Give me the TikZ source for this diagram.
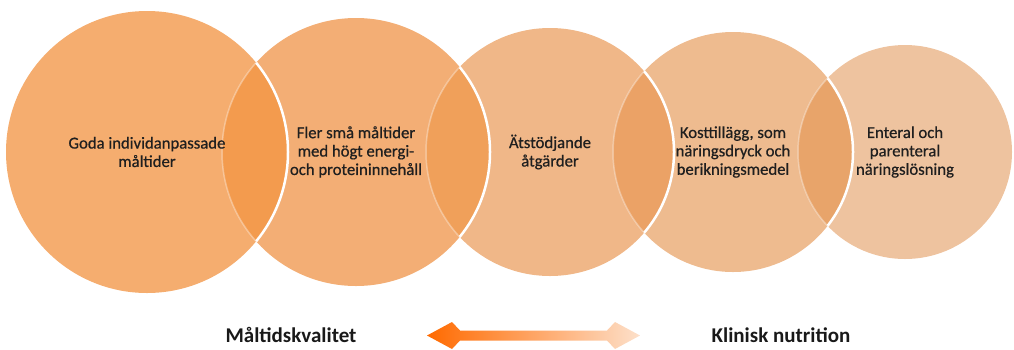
\documentclass[tikz,border=0pt]{standalone}
\usepackage{fontspec}
\setmainfont{Carlito}
\newfontfamily\heavier{Carlito}[FakeBold=0.6]
\usetikzlibrary{calc}
\definecolor{fillA}{HTML}{F5AD6F}
\definecolor{fillB}{HTML}{F3AE75}
\definecolor{fillC}{HTML}{F0B788}
\definecolor{fillD}{HTML}{EEBB8F}
\definecolor{fillE}{HTML}{EEC39F}
\definecolor{lensA}{HTML}{F39B4E}
\definecolor{lensB}{HTML}{F0A05A}
\definecolor{lensC}{HTML}{EBA266}
\definecolor{lensD}{HTML}{E8A46A}
\definecolor{arrowhot}{HTML}{FF6A00}
\definecolor{arrowpale}{HTML}{FDE0CA}
\begin{document}
\begin{tikzpicture}[x=1pt,y=-1pt,
    blob/.style={circle,inner sep=0pt,minimum size=2*#1},
    rim/.style={white,line width=2.5pt},
    ghost/.style={white,opacity=.35,line width=1.5pt},
    txt/.style={align=center,text=black!88,font=\heavier\fontsize{16.7}{18.4}\selectfont},
    tag/.style={text=black!90,font=\fontsize{21}{24}\selectfont\bfseries},
    duplex/.style={left color=arrowhot,right color=arrowpale}]
  \useasboundingbox (0,0) rectangle (1014,349);
  % circles, drawn from the right so the left one lies on top
  \foreach \n/\x/\r/\c in {tube/905/107/fillE,supp/733/120/fillD,eat/550/124/fillC,
      small/356/134/fillB,good/147/141/fillA}
    \node[blob=\r,fill=\c] (\n) at (\x,152) {};
  % overlaps
  \foreach \p/\q/\rp/\rq/\c in {good/small/141/134/lensA,small/eat/134/124/lensB,
      eat/supp/124/120/lensC,supp/tube/120/107/lensD} {
    \begin{scope}
      \clip (\q.center) circle[radius=\rq];
      \fill[\c] (\p.center) circle[radius=\rp];
      \draw[rim] (\p.center) circle[radius=\rp];
    \end{scope}
    \begin{scope}
      \clip (\p.center) circle[radius=\rp];
      \draw[ghost] (\q.center) circle[radius=\rq];
    \end{scope}
  }
  \node[txt] (goodtxt) at (good) {Goda individanpassade\\måltider};
  \node[txt] (smalltxt) at (small) {Fler små måltider\\med högt energi-\\och proteininnehåll};
  \node[txt] (eattxt) at (eat) {Ätstödjande\\åtgärder};
  \node[txt] (supptxt) at (supp) {Kosttillägg, som\\näringsdryck och\\berikningsmedel};
  \node[txt] (tubetxt) at (tube.center) {Enteral och\\parenteral\\näringslösning};
  % scale underneath
  \node[tag,anchor=base] (quality) at (291,342) {Måltidskvalitet};
  \node[tag,anchor=base] (clinic) at (781,342) {Klinisk nutrition};
  \coordinate (west) at (427,335.5);
  \coordinate (east) at (640,335.5);
  \shade[duplex] (west) -- ++(25,-13.5) -- ++(8,8.5) -- ($(east)+(-33,-5)$)
    -- ++(8,-8.5) -- (east) -- ++(-25,13.5) -- ++(-8,-8.5)
    -- ($(west)+(33,5)$) -- ++(-8,8.5) -- cycle;
\end{tikzpicture}
\end{document}
